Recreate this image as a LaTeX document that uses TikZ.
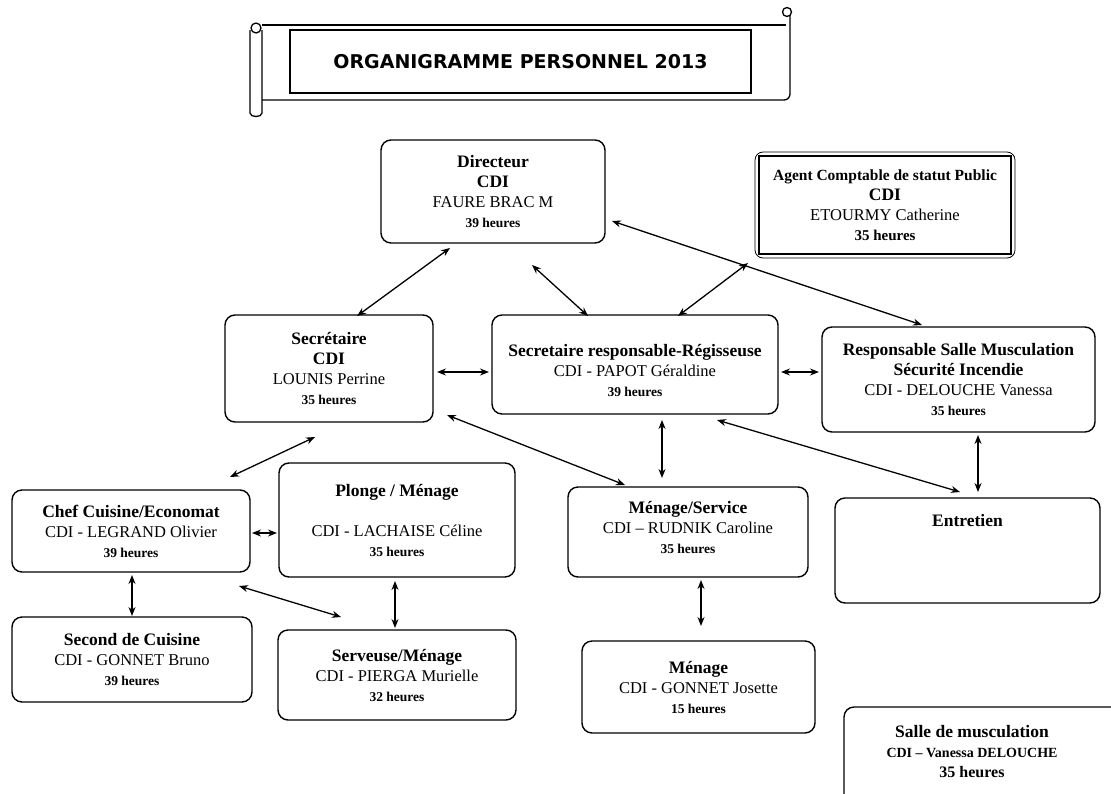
\documentclass[tikz,border=0pt]{standalone}
\usepackage{fontspec}
\setmainfont{Liberation Serif}
\newfontfamily\titlefont{DejaVu Sans}
\usetikzlibrary{arrows.meta}
\newcommand\Hd[1]{{\fontsize{17.5}{20}\selectfont\bfseries #1}}
\newcommand\Nm[1]{{\fontsize{16.5}{20}\selectfont #1}}
\newcommand\Hr[1]{{\fontsize{13.5}{20}\selectfont\bfseries #1}}
\begin{document}
\begin{tikzpicture}[x=1pt,y=-1pt,
  box/.style={draw, line width=1.4pt, rounded corners=10pt, align=center, inner sep=0pt,
    font=\fontsize{16}{20}\selectfont},
  link/.style={line width=1.3pt, {Stealth[length=9pt,width=7pt]}-{Stealth[length=9pt,width=7pt]}},
  scroll/.style={line width=1.3pt},
]
\useasboundingbox (0,0) rectangle (1111,793);

% ---- title scroll ----
\draw[scroll] (262,25) -- (786,25);
\draw[scroll] (250,30) -- (250,113) to[out=-90,in=-90] (262,113) -- (262,30);
\draw[scroll] (256,28) circle (5);
\draw[scroll] (262,100) -- (784,100) to[out=0,in=-90] (790,94) -- (790,16);
\draw[scroll] (787,12) circle (4.5);
\node[draw, line width=1.3pt, minimum width=461pt, minimum height=63pt, inner sep=0pt] (title) at (520.5,61.5)
  {\titlefont\bfseries\fontsize{19}{22}\selectfont ORGANIGRAMME PERSONNEL 2013};

% ---- boxes ----
\node[box, minimum width=224pt, minimum height=103pt] (dir) at (493,191.5)
  {\Hd{Directeur}\\ \Hd{CDI}\\ \Nm{FAURE BRAC M}\\ \Hr{39 heures}};

\node[draw, line width=0.8pt, rounded corners=8pt, minimum width=260pt, minimum height=106pt, inner sep=0pt] (agentout) at (885,205) {};
\node[draw, line width=1.4pt, minimum width=252pt, minimum height=98pt, align=center, inner sep=0pt,
      font=\fontsize{16}{20}\selectfont] (agent) at (885,205)
  {{\fontsize{15.5}{20}\selectfont\bfseries Agent Comptable de statut Public}\\ \Hd{CDI}\\ \Nm{ETOURMY Catherine}\\ {\fontsize{15}{20}\selectfont\bfseries 35 heures}};

\node[box, minimum width=208pt, minimum height=107pt] (sec) at (329,368.5)
  {\Hd{Secrétaire}\\ \Hd{CDI}\\ \Nm{LOUNIS Perrine}\\ \Hr{35 heures}};

\node[box, minimum width=286pt, minimum height=99pt] (resp) at (635,364.5)
  {\Hd{\rule{0pt}{24pt}Secretaire responsable-Régisseuse}\\ \Nm{CDI - PAPOT Géraldine}\\ \Hr{39 heures}};

\node[box, minimum width=273pt, minimum height=105pt] (salle) at (958.5,379.5)
  {\Hd{Responsable Salle Musculation}\\ \Hd{Sécurité Incendie}\\ \Nm{CDI - DELOUCHE Vanessa}\\ \Hr{35 heures}};

\node[box, minimum width=238pt, minimum height=82pt] (chef) at (131,531)
  {\Hd{Chef Cuisine/Economat}\\ \Nm{CDI - LEGRAND Olivier}\\ \Hr{39 heures}};

\node[box, minimum width=236pt, minimum height=114pt] (plonge) at (397,520)
  {\Hd{Plonge / Ménage}\\[20pt] \Nm{CDI - LACHAISE Céline}\\ \Hr{35 heures}};

\node[box, minimum width=240pt, minimum height=90pt] (mserv) at (688,532)
  {\Hd{Ménage/Service}\\ \Nm{CDI – RUDNIK Caroline}\\ \Hr{35 heures}\\[-10pt]};

\node[box, minimum width=265pt, minimum height=105pt] (entretien) at (967.5,550.5)
  {\Hd{Entretien}\\[40pt]};

\node[box, minimum width=240pt, minimum height=85pt] (second) at (132,659.5)
  {\Hd{Second de Cuisine}\\ \Nm{CDI - GONNET Bruno}\\ \Hr{39 heures}};

\node[box, minimum width=238pt, minimum height=90pt] (serveuse) at (397,675)
  {\Hd{Serveuse/Ménage}\\ \Nm{CDI - PIERGA Murielle}\\ \Hr{32 heures}};

\node[box, minimum width=233pt, minimum height=92pt] (menage) at (698.5,687)
  {\Hd{Ménage}\\ \Nm{CDI - GONNET Josette}\\ \Hr{15 heures}};

\node[box, minimum width=286pt, minimum height=103pt] (smus) at (987,758.5) {};
\node[align=center, inner sep=0pt, font=\fontsize{16}{20}\selectfont] (smus-t) at (972,752)
  {\Hd{Salle de musculation}\\ {\fontsize{14}{20}\selectfont\bfseries CDI – Vanessa DELOUCHE}\\ {\fontsize{16}{20}\selectfont\bfseries 35 heures}};

% ---- connector end points ----
\coordinate (a1) at (450,248);  \coordinate (a2) at (357,316);
\coordinate (b1) at (532,265);  \coordinate (b2) at (588,316);
\coordinate (c1) at (678,316);  \coordinate (c2) at (748,263);
\coordinate (d1) at (612,221);  \coordinate (d2) at (922,325);
\coordinate (e1) at (437,372);  \coordinate (e2) at (489,372);
\coordinate (f1) at (781,372);  \coordinate (f2) at (819,372);
\coordinate (g1) at (315,437);  \coordinate (g2) at (230,477);
\coordinate (h1) at (447,415);  \coordinate (h2) at (625,485);
\coordinate (i1) at (662,420);  \coordinate (i2) at (662,478);
\coordinate (j1) at (717,420);  \coordinate (j2) at (960,492);
\coordinate (k1) at (978,435);  \coordinate (k2) at (978,492);
\coordinate (l1) at (252,533);  \coordinate (l2) at (277,533);
\coordinate (m1) at (132,575);  \coordinate (m2) at (132,616);
\coordinate (n1) at (239,586);  \coordinate (n2) at (341,617);
\coordinate (o1) at (395,581);  \coordinate (o2) at (395,628);
\coordinate (p1) at (701,580);  \coordinate (p2) at (701,626);

\draw[link] (a1) -- (a2);
\draw[link] (b1) -- (b2);
\draw[link] (c1) -- (c2);
\draw[link] (d1) -- (d2);
\draw[link] (e1) -- (e2);
\draw[link] (f1) -- (f2);
\draw[link] (g1) -- (g2);
\draw[link] (h1) -- (h2);
\draw[link] (i1) -- (i2);
\draw[link] (j1) -- (j2);
\draw[link] (k1) -- (k2);
\draw[link] (l1) -- (l2);
\draw[link] (m1) -- (m2);
\draw[link] (n1) -- (n2);
\draw[link] (o1) -- (o2);
\draw[link] (p1) -- (p2);
\end{tikzpicture}
\end{document}
